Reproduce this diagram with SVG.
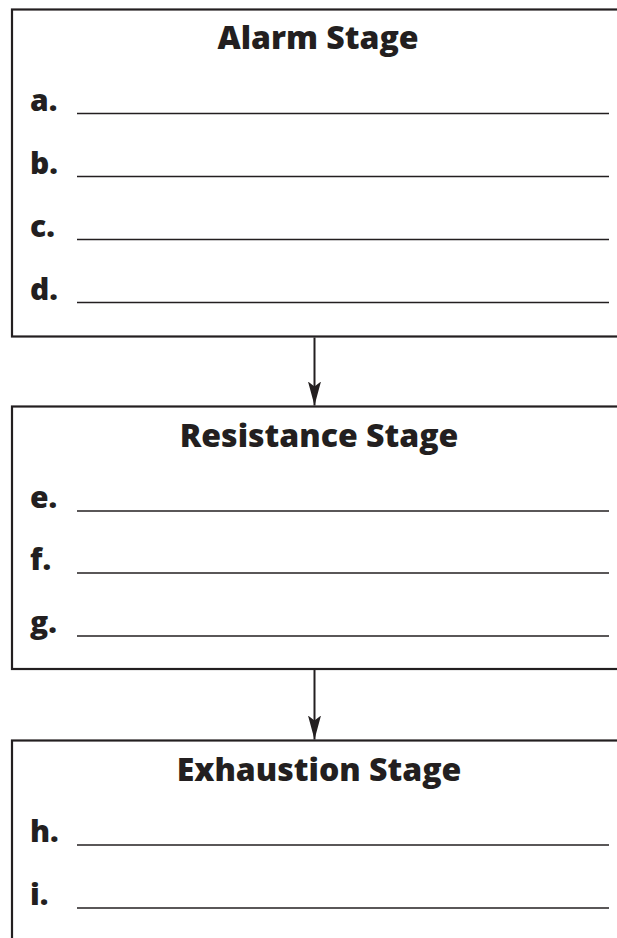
<svg xmlns="http://www.w3.org/2000/svg" width="617" height="938" viewBox="0 0 617 938">
  <style>
    .box { fill: #ffffff; stroke: #231f20; stroke-width: 2.2; }
    .title { font-family: "Open Sans", "DejaVu Sans", sans-serif; font-weight: 800; font-size: 32px; fill: #231f20; text-anchor: middle; }
    .label { font-family: "Open Sans", "DejaVu Sans", sans-serif; font-weight: 800; font-size: 30px; fill: #231f20; }
    .blank { stroke: #231f20; stroke-width: 1.5; }
    .conn { stroke: #231f20; stroke-width: 2; fill: none; }
  </style>
  <defs>
    <!-- arrowhead drawn along +x so orient="auto" follows the line -->
    <marker id="arrow" viewBox="0 0 24 14" refX="24" refY="7" markerWidth="24" markerHeight="14" markerUnits="userSpaceOnUse" orient="auto">
      <path d="M0,0.5 L5,7 L0,13.5 L24,7 Z" fill="#231f20"/>
    </marker>
  </defs>
  <rect width="617" height="938" fill="#ffffff"/>

  <g id="alarm-stage">
    <rect class="box" x="12" y="9.5" width="640" height="327"/>
    <text class="title" x="318" y="49">Alarm Stage</text>
    <text class="label" x="30" y="110.5">a.</text>
    <line class="blank" x1="77" y1="113.5" x2="609" y2="113.5"/>
    <text class="label" x="30" y="173.5">b.</text>
    <line class="blank" x1="77" y1="176.5" x2="609" y2="176.5"/>
    <text class="label" x="30" y="236.5">c.</text>
    <line class="blank" x1="77" y1="239.5" x2="609" y2="239.5"/>
    <text class="label" x="30" y="299.5">d.</text>
    <line class="blank" x1="77" y1="302.5" x2="609" y2="302.5"/>
  </g>

  <g id="resistance-stage">
    <rect class="box" x="12" y="406.5" width="640" height="262.5"/>
    <text class="title" x="319" y="446.5">Resistance Stage</text>
    <text class="label" x="30" y="508">e.</text>
    <line class="blank" x1="77" y1="511" x2="609" y2="511"/>
    <text class="label" x="30" y="570">f.</text>
    <line class="blank" x1="77" y1="573" x2="609" y2="573"/>
    <text class="label" x="30" y="633">g.</text>
    <line class="blank" x1="77" y1="636" x2="609" y2="636"/>
  </g>

  <g id="exhaustion-stage">
    <rect class="box" x="12" y="740.5" width="640" height="260"/>
    <text class="title" x="319" y="780.5">Exhaustion Stage</text>
    <text class="label" x="30" y="842">h.</text>
    <line class="blank" x1="77" y1="845" x2="609" y2="845"/>
    <text class="label" x="30" y="905">i.</text>
    <line class="blank" x1="77" y1="908" x2="609" y2="908"/>
  </g>

  <g id="connectors">
    <line class="conn" x1="314.5" y1="337.5" x2="314.5" y2="405.5" marker-end="url(#arrow)"/>
    <line class="conn" x1="314.5" y1="670" x2="314.5" y2="739.5" marker-end="url(#arrow)"/>
  </g>
</svg>
